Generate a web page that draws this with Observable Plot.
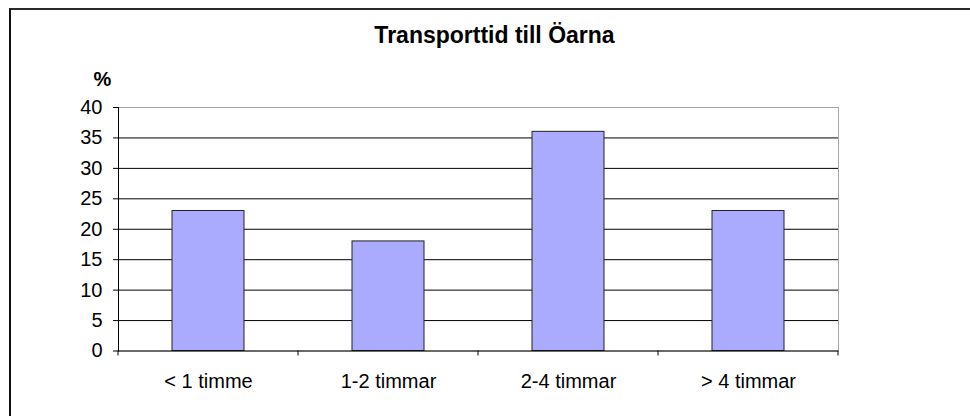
<!DOCTYPE html>
<html>
<head>
<meta charset="utf-8">
<script src="https://cdn.jsdelivr.net/npm/d3@7"></script>
<script src="https://cdn.jsdelivr.net/npm/@observablehq/plot@0.6"></script>
<style>
  html, body { margin: 0; padding: 0; background: #fff; overflow: hidden; }
  #wrap { position: relative; width: 970px; height: 416px; overflow: hidden; font-family: "Liberation Sans", Arial, sans-serif; }
  #border { position: absolute; left: 9px; top: 8px; width: 1000px; height: 500px; border-top: 2px solid #2a2a2a; border-left: 2px solid #111; box-sizing: border-box; }
  #title { position: relative; width: 989px; height: 56px; box-sizing: border-box; padding-top: 24px; text-align: center; font-size: 23px; line-height: 22px; font-weight: bold; color: #000; }
  #chart { position: relative; }
  #chart svg { display: block; }
</style>
</head>
<body>
<div id="wrap">
  <div id="border"></div>
  <div id="title"></div>
  <div id="chart"></div>
</div>
<script>
const title = "Transporttid till Öarna";
const yLabel = "%";
const categories = ["< 1 timme", "1-2 timmar", "2-4 timmar", "> 4 timmar"];
const values = [23, 18, 36, 23];
const yTicks = [0, 5, 10, 15, 20, 25, 30, 35, 40];

const data = categories.map((c, i) => ({category: c, value: values[i]}));

document.getElementById("title").textContent = title;

const edgeTicks = Plot.ruleY([0], {
  render(index, scales, values_, dimensions, context) {
    const x = scales.x, y = scales.y;
    const bw = typeof x.bandwidth === "function" ? x.bandwidth() : (x.bandwidth || 0);
    const step = x(categories[1]) - x(categories[0]);
    const edges = categories.map(c => x(c) + bw / 2 - step / 2);
    edges.push(x(categories[categories.length - 1]) + bw / 2 + step / 2);
    const y0 = y(0);
    const g = d3.create("svg:g");
    g.selectAll("line").data(edges).join("line")
      .attr("x1", d => d).attr("x2", d => d)
      .attr("y1", y0).attr("y2", y0 + 5)
      .attr("stroke", "#000");
    return g.node();
  }
});

const chart = Plot.plot({
  width: 970,
  height: 360,
  marginLeft: 118,
  marginRight: 132,
  marginTop: 51,
  marginBottom: 65.5,
  style: {fontFamily: "'Liberation Sans', Arial, sans-serif", fontSize: "20px", color: "#000", background: "transparent", overflow: "visible"},
  x: {domain: categories, paddingInner: 0.6, paddingOuter: 0.3, label: null},
  y: {domain: [0, 40], label: null},
  marks: [
    Plot.frame({stroke: "#a6a6a6"}),
    Plot.gridY(yTicks.filter(t => t > 0 && t < 40), {stroke: "#000", strokeOpacity: 1}),
    Plot.barY(data, {x: "category", y: "value", fill: "#aaaaff", stroke: "#222", strokeWidth: 1, inset: 0}),
    Plot.frame({anchor: "left", stroke: "#000"}),
    Plot.ruleY([0], {stroke: "#000"}),
    Plot.axisY(yTicks, {tickSize: 5, tickPadding: 11, stroke: "#000", fill: "#000"}),
    Plot.axisX({tickSize: 0, tickPadding: 23, fill: "#000"}),
    edgeTicks,
    Plot.text([yLabel], {frameAnchor: "top-left", text: d => d, dx: -16, dy: -22, textAnchor: "middle", lineAnchor: "bottom", fontWeight: "bold", fontSize: 20, fill: "#000"})
  ]
});
document.getElementById("chart").appendChild(chart);
</script>
</body>
</html>
